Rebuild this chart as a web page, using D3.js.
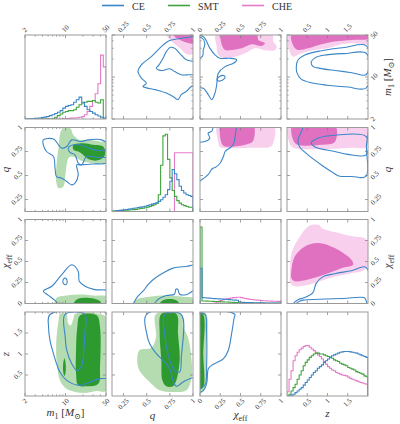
<!DOCTYPE html>
<html>
<head>
<meta charset="UTF-8">
<title>corner plot</title>
<script src="https://d3js.org/d3.v7.min.js"></script>
<style>
  body { margin:0; background:#fff; }
  svg text { font-family: "Liberation Serif", "DejaVu Serif", serif; fill:#333; }
</style>
</head>
<body>
<svg id="chart" width="400" height="424"></svg>
<script>
// ---------- data ----------
const channels = ["CE", "SMT", "CHE"];

// axes
const m1Domain = [2, 50], m1Ticks = [2, 10, 50], m1Minor = [3, 4, 5, 6, 7, 8, 9, 20, 30, 40];
const qDomain = [0.125, 1], qTicks = [0.25, 0.5, 0.75, 1];
const chiDomain = [0, 1], chiTicks = [0, 0.25, 0.5, 0.75, 1];
const zDomain = [0, 2], zTicks = [0.5, 1, 1.5];

// 1D histograms (heights relative to panel height)
// m1: 30 log bins over [2, 50]
const ceM1Hist  = [0,0,0.003,0.005,0.008,0.012,0.016,0.022,0.03,0.04,0.05,0.065,0.08,0.1,0.13,0.15,0.16,0.17,0.2,0.23,0.26,0.2,0.15,0.11,0.09,0.07,0.05,0.035,0.02,0.01];
const smtM1Hist = [0,0,0,0,0,0,0,0,0,0,0,0.02,0.04,0.06,0.08,0.09,0.1,0.1,0.11,0.14,0.17,0.19,0.2,0.21,0.21,0.22,0.2,0.19,0.23,0];
const cheM1Hist = [0,0,0,0,0,0,0,0,0,0,0,0,0,0,0.003,0.005,0.008,0.01,0.012,0.015,0.02,0.03,0.05,0.09,0.15,0.22,0.3,0.42,0.76,0.62];
// q: 35 bins over [0.125, 1]
const ceQHist  = [0.003,0.006,0.01,0.013,0.016,0.02,0.024,0.028,0.033,0.038,0.042,0.047,0.052,0.057,0.062,0.07,0.08,0.088,0.096,0.105,0.12,0.14,0.17,0.2,0.26,0.36,0.5,0.45,0.38,0.3,0.25,0.22,0.2,0.19,0.18];
const smtQHist = [0.004,0.006,0.008,0.01,0.012,0.014,0.016,0.018,0.02,0.022,0.025,0.03,0.035,0.04,0.045,0.05,0.06,0.07,0.08,0.1,0.2,0.55,0.9,0.92,0.62,0.4,0.25,0.18,0.13,0.1,0.08,0.07,0.06,0.05,0.05];
const cheQHist = [0,0,0,0,0,0,0,0,0,0,0,0,0,0,0,0,0,0,0,0,0,0,0,0,0,0,0,0.7,0.7,0.7,0.7,0.7,0.7,0.7,0.7];
// chi_eff: 40 bins over [0, 1]
const ceChiHist  = [0.42,0.07,0.068,0.066,0.064,0.062,0.06,0.058,0.056,0.055,0.054,0.052,0.05,0.048,0.046,0.044,0.042,0.04,0.038,0.02,0.015,0.013,0.012,0.011,0.01,0.01,0.009,0.009,0.008,0.008,0.007,0.007,0.006,0.006,0.006,0.005,0.005,0.005,0.005,0.005];
const smtChiHist = [0.91,0.03,0.03,0.028,0.027,0.026,0.025,0.024,0.023,0.022,0.02,0.019,0.018,0.017,0.016,0.015,0.013,0.012,0.01,0.008,0.003,0.003,0.002,0.002,0.002,0.002,0.002,0.002,0.002,0.002,0.002,0.002,0.002,0.002,0.002,0.002,0.002,0.002,0.002,0.002];
const cheChiHist = [0,0,0,0,0,0,0,0.005,0.015,0.025,0.035,0.045,0.05,0.055,0.06,0.065,0.07,0.07,0.075,0.075,0.07,0.065,0.06,0.055,0.05,0.048,0.045,0.042,0.04,0.038,0.035,0.033,0.032,0.03,0.03,0.028,0.027,0.026,0.025,0.025];
// z: 40 bins over [0, 2]
const ceZHist  = [0,0,0.01,0.02,0.04,0.06,0.08,0.1,0.13,0.16,0.19,0.22,0.25,0.28,0.3,0.33,0.35,0.37,0.4,0.42,0.44,0.46,0.48,0.49,0.5,0.51,0.52,0.525,0.53,0.53,0.53,0.525,0.52,0.515,0.51,0.5,0.49,0.48,0.47,0.46];
const smtZHist = [0,0.02,0.06,0.1,0.14,0.2,0.25,0.3,0.36,0.4,0.43,0.46,0.48,0.5,0.51,0.51,0.5,0.5,0.49,0.48,0.47,0.46,0.45,0.43,0.42,0.41,0.39,0.38,0.37,0.36,0.34,0.33,0.32,0.31,0.29,0.28,0.27,0.26,0.24,0.23];
const cheZHist = [0.05,0.2,0.3,0.42,0.48,0.52,0.55,0.57,0.59,0.6,0.6,0.58,0.56,0.54,0.52,0.49,0.47,0.44,0.41,0.38,0.35,0.33,0.31,0.3,0.28,0.27,0.26,0.25,0.245,0.24,0.225,0.21,0.2,0.19,0.18,0.17,0.16,0.155,0.145,0.14];

// 2D credible regions, [x, y] in data units
// upper triangle: CHE (filled) and CE (lines)
const cheQM1Light = [[0.72,52],[1.02,52],[1.02,25],[0.93,24],[0.86,30],[0.78,38],[0.73,45]];
const cheQM1Dark  = [[0.8,52],[1.02,52],[1.02,36],[0.92,38],[0.85,42],[0.8,47]];
const ceQM1Outer  = [[1.06,47],[0.96,46],[0.856,43.6],[0.748,40.4],[0.676,34],[0.55,21.8],[0.442,15.9],[0.406,12.3],[0.442,9.6],[0.496,7.9],[0.46,6.95],[0.604,6.1],[0.712,5.4],[0.784,4.75],[0.838,4.2],[0.874,5.1],[0.928,5.75],[0.982,6.95],[1.06,8]];
const ceQM1Inner  = [[1.06,11.6],[0.946,10.9],[0.874,10.9],[0.802,12.3],[0.748,13.7],[0.658,12.8],[0.604,14],[0.633,15.9],[0.676,20.5],[0.712,26.4],[0.755,31.2],[0.802,30],[0.856,24.8],[0.928,19.3],[1.06,17]];

const cheChiM1Light = [[0.2,52],[0.885,52],[0.905,38.8],[0.947,32],[0.926,28.2],[0.823,27.5],[0.679,30],[0.556,24.8],[0.432,21.8],[0.309,20.5],[0.226,23.3],[0.206,32]];
const cheChiM1Dark  = [[0.267,52],[0.7,52],[0.72,41.4],[0.802,36.4],[0.761,32.8],[0.638,35],[0.514,30],[0.391,28.2],[0.309,28.2],[0.267,35]];
const ceChiM1Outer  = [[-0.05,47],[0.041,46.6],[0.123,30],[0.185,23.3],[0.247,20.5],[0.37,20.5],[0.453,19.3],[0.412,16.9],[0.309,14.9],[0.226,11.6],[0.206,7.4],[0.185,5.4],[0.144,4.18],[0.103,5.07],[0.041,6.5],[-0.05,6.95]];
const ceChiM1Inner  = [[-0.05,45],[0.03,44],[0.06,36],[0.04,28],[0.03,22],[-0.05,20]];
const ceChiM1Loop   = [[0.21,9.2],[0.24,10.2],[0.29,10.6],[0.31,10],[0.28,8.9],[0.23,8.6]];

const cheZM1Light = [[0.05,52],[2.05,52],[2.05,36],[1.67,36.4],[1.34,35],[1.01,30],[0.68,28.2],[0.35,24.8],[0.15,21.8],[0.07,26.4]];
const cheZM1Dark  = [[0.12,52],[2.05,52],[2.05,44],[1.6,41.4],[1.18,39],[0.85,35],[0.52,30],[0.27,28.2],[0.17,32]];
const ceZM1Outer  = [[1.96,33],[1.42,31],[0.85,27.4],[0.44,23.3],[0.27,19.2],[0.23,14.9],[0.25,11.6],[0.35,9.2],[0.6,8],[1.0,7.3],[1.5,6.8],[1.96,6.6]];
const ceZM1Inner  = [[1.96,24.8],[1.4,24.5],[0.9,23],[0.7,21],[0.6,18],[0.64,15],[0.85,13.8],[1.2,12.8],[1.6,11.8],[1.96,11]];

const cheChiQLight = [[0.22,1.03],[0.905,1.03],[0.905,0.84],[0.87,0.8],[0.6,0.79],[0.31,0.785],[0.245,0.8],[0.225,0.85]];
const cheChiQDark  = [[0.265,1.03],[0.655,1.03],[0.655,0.86],[0.6,0.83],[0.4,0.8],[0.3,0.805],[0.27,0.83]];
const ceChiQOuter  = [[0.43,1.05],[0.432,0.9],[0.42,0.84],[0.39,0.8],[0.31,0.75],[0.29,0.7],[0.25,0.63],[0.2,0.59],[0.15,0.57],[0.1,0.51],[0.02,0.455],[-0.05,0.42],[-0.05,1.05]];
const ceChiQInner  = [[0.145,1.05],[0.15,0.965],[0.1,0.94],[0.12,0.89],[0.06,0.855],[-0.05,0.86],[-0.05,1.05]];

const cheZQLight = [[0.06,1.03],[1.96,1.03],[1.96,0.8],[1.6,0.79],[0.19,0.785],[0.08,0.82]];
const cheZQDark  = [[0.14,1.03],[1.18,1.03],[1.18,0.85],[0.85,0.82],[0.27,0.82],[0.16,0.86]];
const ceZQOuter  = [[0.48,1.05],[0.36,0.96],[0.27,0.87],[0.31,0.8],[0.52,0.715],[0.85,0.61],[1.1,0.54],[1.28,0.495],[1.6,0.49],[1.95,0.49],[1.96,0.8],[1.96,1.05]];
const ceZQInner  = [[1.955,0.905],[1.18,0.92],[0.77,0.89],[0.6,0.84],[0.68,0.8],[1.18,0.75],[1.5,0.72],[1.955,0.715]];

const cheZChiLight = [[0.07,0.3],[0.08,0.45],[0.11,0.6],[0.27,0.76],[0.56,0.93],[0.81,0.93],[0.85,0.9],[1.18,0.85],[1.59,0.8],[1.96,0.76],[1.96,0.42],[1.59,0.36],[1.18,0.32],[0.85,0.27],[0.44,0.213],[0.19,0.205],[0.08,0.24]];
const cheZChiDark  = [[0.11,0.4],[0.19,0.56],[0.44,0.68],[0.77,0.72],[1.18,0.66],[1.59,0.52],[1.63,0.46],[1.34,0.42],[1.01,0.36],[0.52,0.285],[0.19,0.265],[0.11,0.3]];
const ceZChiOuter  = [[0.14,-0.05],[0.16,0.0],[0.27,0.045],[0.44,0.07],[0.64,0.13],[0.72,0.24],[0.89,0.32],[1.18,0.355],[1.59,0.39],[1.95,0.43],[1.96,-0.05]];
const ceZChiInner  = [[0.18,-0.05],[0.25,0.01],[0.4,0.04],[0.8,0.05],[1.4,0.06],[1.9,0.07],[1.95,0.04],[1.96,-0.05]];

// lower triangle: SMT (filled) and CE (lines)
const smtM1QLight = [[8.6,0.976],[12,0.993],[13.7,0.923],[17.9,0.87],[26.4,0.87],[39.4,0.854],[52,0.84],[52,0.628],[30,0.628],[20.2,0.646],[15.6,0.68],[12.8,0.698],[11.2,0.68],[10.5,0.611],[9.8,0.472],[9.2,0.385],[7.6,0.368],[6.9,0.437],[7.0,0.611],[7.6,0.8],[8.0,0.923]];
const smtM1QDark  = [[13.7,0.819],[20.2,0.837],[30.1,0.82],[45,0.8],[48,0.715],[39.4,0.663],[26.4,0.663],[17.9,0.74],[13.7,0.77]];
const ceM1QOuter  = [[4.14,0.871],[6.2,0.88],[8.6,0.785],[10.5,0.802],[12.8,0.871],[17.9,0.854],[24.7,0.871],[34.5,0.878],[42.1,0.871],[55,0.82],[55,0.64],[30,0.62],[18,0.611],[15.6,0.611],[16.6,0.507],[14.6,0.42],[12.8,0.402],[10.5,0.437],[8.6,0.472],[7.0,0.489],[6.6,0.576],[6.2,0.698],[4.7,0.75],[4.14,0.819]];
const ceM1QInner  = [[11.2,0.785],[13.7,0.82],[20.2,0.81],[28.2,0.775],[39.4,0.76],[55,0.77],[55,0.7],[34.5,0.69],[23.2,0.7],[19,0.611],[16.6,0.628],[14.6,0.715],[12,0.74]];

const smtM1ChiLight = [[6,-0.02],[6.6,0.02],[7.0,0.067],[10.5,0.094],[17.9,0.106],[30,0.094],[52,0.08],[52,-0.02]];
const smtM1ChiDark  = [[13.7,-0.02],[15.6,0.047],[23.2,0.067],[34.5,0.047],[39.4,0.028],[42,-0.02]];
const ceM1ChiOuter  = [[4.14,0.146],[5.8,0.205],[8.6,0.343],[12.8,0.461],[16.6,0.382],[17.3,0.264],[21.7,0.205],[32,0.165],[55,0.146],[55,-0.05],[9,-0.05],[6.5,0.04],[5,0.1]];
const ceM1ChiLoop   = [[9.0,0.26],[9.5,0.3],[10.3,0.295],[10.7,0.26],[10.2,0.225],[9.4,0.23]];

const smtQChiLight = [[0.34,-0.02],[0.39,0.047],[0.53,0.079],[0.71,0.094],[0.89,0.079],[1.02,0.055],[1.02,-0.02]];
const smtQChiDark  = [[0.63,-0.02],[0.676,0.039],[0.748,0.055],[0.82,0.039],[0.86,-0.02]];
const ceQChiOuter  = [[1.05,0.45],[0.928,0.441],[0.784,0.421],[0.676,0.362],[0.568,0.283],[0.514,0.224],[0.46,0.146],[0.406,0.087],[0.37,0.028],[0.35,-0.05],[1.05,-0.05]];
const ceQChiInner  = [[0.58,-0.05],[0.604,0.03],[0.712,0.094],[0.8,0.11],[0.815,0.17],[0.835,0.17],[0.856,0.11],[0.928,0.105],[1.05,0.17],[1.05,-0.05]];

const smtM1ZLight = [[8,1.95],[10.3,1.95],[11.2,1.72],[12.3,1.68],[13.7,1.84],[14.6,1.95],[39.4,1.95],[52,1.85],[52,0.13],[34.5,0.12],[20.2,0.071],[12.8,0.119],[9.8,0.198],[8,0.373],[7.2,0.69],[6.9,1.0],[7.0,1.4],[7.6,1.8]];
const smtM1ZDark  = [[17.9,1.92],[34.5,1.92],[39.4,1.64],[39.4,0.69],[37,0.294],[23.2,0.23],[16.6,0.254],[15.2,0.532],[15.2,1.087],[16,1.64]];
const smtM1ZDark2 = [[9.6,0.9],[10.1,0.75],[10.0,0.55],[9.6,0.48],[9.2,0.55],[9.1,0.75]];
const ceM1ZOuter  = [[5.4,1.94],[55,1.94],[55,0.45],[39.4,0.413],[26.4,0.333],[17.9,0.254],[10.5,0.373],[8.0,0.571],[7.0,0.77],[6.2,1.008],[5.4,1.325],[5.1,1.64]];
const ceM1ZInner  = [[9.8,1.94],[9.9,1.4],[10.5,1.09],[12.8,0.77],[16,0.6],[19,0.73],[20.8,1.09],[21.5,1.5],[21.7,1.94]];

const smtQZLight = [[0.6,1.95],[0.874,1.95],[0.892,1.64],[0.946,1.4],[0.99,0.7],[0.982,0.4],[0.928,0.135],[0.784,0.095],[0.64,0.135],[0.532,0.333],[0.46,0.492],[0.406,0.69],[0.42,1.087],[0.55,1.15],[0.6,1.4]];
const smtQZDark  = [[0.658,1.95],[0.82,1.95],[0.838,1.48],[0.856,0.85],[0.82,0.373],[0.784,0.23],[0.712,0.23],[0.669,0.373],[0.658,0.85],[0.64,1.48]];
const ceQZOuter  = [[0.496,1.94],[1.05,1.94],[1.05,0.5],[0.964,0.413],[0.892,0.333],[0.82,0.23],[0.784,0.373],[0.748,0.651],[0.676,0.849],[0.604,1.008],[0.532,1.246],[0.5,1.484]];
const ceQZInner  = [[0.694,1.94],[0.694,1.48],[0.73,1.0],[0.8,0.61],[0.856,0.57],[0.874,0.93],[0.874,1.94]];

const smtChiZLight = [[-0.05,1.97],[0.07,1.97],[0.075,1.0],[0.07,0.25],[0.04,0.1],[0.0,0.08],[-0.05,0.08]];
const smtChiZDark  = [[-0.05,1.95],[0.035,1.95],[0.04,1.0],[0.035,0.2],[-0.05,0.15]];
const ceChiZOuter  = [[-0.05,1.95],[0.43,1.945],[0.42,1.85],[0.39,1.48],[0.35,1.09],[0.29,0.89],[0.144,0.73],[0.103,0.65],[0.082,0.294],[0.041,0.135],[-0.05,0.09]];
const ceChiZInner  = [[-0.05,1.95],[0.062,1.94],[0.08,1.6],[0.082,0.73],[0.07,0.3],[0.03,0.2],[-0.05,0.17]];

// ---------- layout / style ----------
const colLeft = [25, 112, 200, 287];
const rowTop = [35, 127.5, 219.5, 312];
const PW = 81, PH = 84;
const blue = "#3b86c8", green = "#3fa53c", pink = "#e57bc8";
const pinkDark = "#e070c0", pinkLight = "#f8cfec";
const greenDark = "#2c9a2e", greenLight = "#b4dcb0";
const lineColor = {CE: blue, SMT: green, CHE: pink};

const axisDefs = {
  m1:  {domain: m1Domain, log: true, ticks: m1Ticks, minor: m1Minor},
  q:   {domain: qDomain, ticks: qTicks, minor: []},
  chi: {domain: chiDomain, ticks: chiTicks, minor: []},
  z:   {domain: zDomain, ticks: zTicks, minor: []}
};
const order = ["m1", "q", "chi", "z"];

const histTable = {
  m1:  {CE: ceM1Hist, SMT: smtM1Hist, CHE: cheM1Hist},
  q:   {CE: ceQHist, SMT: smtQHist, CHE: cheQHist},
  chi: {CE: ceChiHist, SMT: smtChiHist, CHE: cheChiHist},
  z:   {CE: ceZHist, SMT: smtZHist, CHE: cheZHist}
};

const pairPanels = [
  {r:0, c:1, light:[cheQM1Light], dark:[cheQM1Dark], fill:"CHE", ce:[ceQM1Outer, ceQM1Inner]},
  {r:0, c:2, light:[cheChiM1Light], dark:[cheChiM1Dark], fill:"CHE", ce:[ceChiM1Outer, ceChiM1Inner, ceChiM1Loop]},
  {r:0, c:3, light:[cheZM1Light], dark:[cheZM1Dark], fill:"CHE", ce:[ceZM1Outer, ceZM1Inner]},
  {r:1, c:2, light:[cheChiQLight], dark:[cheChiQDark], fill:"CHE", ce:[ceChiQOuter, ceChiQInner]},
  {r:1, c:3, light:[cheZQLight], dark:[cheZQDark], fill:"CHE", ce:[ceZQOuter, ceZQInner]},
  {r:2, c:3, light:[cheZChiLight], dark:[cheZChiDark], fill:"CHE", ce:[ceZChiOuter, ceZChiInner]},
  {r:1, c:0, light:[smtM1QLight], dark:[smtM1QDark], fill:"SMT", ce:[ceM1QOuter, ceM1QInner]},
  {r:2, c:0, light:[smtM1ChiLight], dark:[smtM1ChiDark], fill:"SMT", ce:[ceM1ChiOuter, ceM1ChiLoop]},
  {r:2, c:1, light:[smtQChiLight], dark:[smtQChiDark], fill:"SMT", ce:[ceQChiOuter, ceQChiInner]},
  {r:3, c:0, light:[smtM1ZLight], dark:[smtM1ZDark, smtM1ZDark2], fill:"SMT", ce:[ceM1ZOuter, ceM1ZInner]},
  {r:3, c:1, light:[smtQZLight], dark:[smtQZDark], fill:"SMT", ce:[ceQZOuter, ceQZInner]},
  {r:3, c:2, light:[smtChiZLight], dark:[smtChiZDark], fill:"SMT", ce:[ceChiZOuter, ceChiZInner]}
];

const svg = d3.select("#chart");

function xScale(v, c) {
  const d = axisDefs[v];
  return (d.log ? d3.scaleLog() : d3.scaleLinear()).domain(d.domain).range([colLeft[c], colLeft[c] + PW]);
}
function yScale(v, r) {
  const d = axisDefs[v];
  return (d.log ? d3.scaleLog() : d3.scaleLinear()).domain(d.domain).range([rowTop[r] + PH, rowTop[r]]);
}

// clip paths
const defs = svg.append("defs");
for (let r = 0; r < 4; r++) for (let c = 0; c < 4; c++) {
  defs.append("clipPath").attr("id", `clip${r}${c}`)
    .append("rect").attr("x", colLeft[c]).attr("y", rowTop[r]).attr("width", PW).attr("height", PH);
}

// ---- diagonal histograms ----
order.forEach((v, i) => {
  const sx = xScale(v, i);
  const sy = d3.scaleLinear().domain([0, 1]).range([rowTop[i] + PH, rowTop[i]]);
  const g = svg.append("g").attr("clip-path", `url(#clip${i}${i})`);
  const dom = axisDefs[v].domain;
  ["CHE", "SMT", "CE"].forEach(ch => {
    const h = histTable[v][ch];
    const n = h.length;
    const edge = k => axisDefs[v].log ? dom[0] * Math.pow(dom[1] / dom[0], k / n) : dom[0] + (dom[1] - dom[0]) * k / n;
    const pts = [[edge(0), 0]];
    h.forEach((val, k) => pts.push([edge(k), val]));
    pts.push([edge(n), h[n - 1]]);
    pts.push([edge(n), 0]);
    const line = d3.line().x(d => sx(d[0])).y(d => sy(d[1])).curve(d3.curveStepAfter);
    g.append("path").attr("d", line(pts)).attr("fill", "none")
      .attr("stroke", lineColor[ch]).attr("stroke-width", 1.1);
  });
});

// ---- 2D panels ----
pairPanels.forEach(p => {
  const sx = xScale(order[p.c], p.c), sy = yScale(order[p.r], p.r);
  const g = svg.append("g").attr("clip-path", `url(#clip${p.r}${p.c})`);
  const shape = d3.line().x(d => sx(d[0])).y(d => sy(d[1])).curve(d3.curveCatmullRomClosed.alpha(0.5));
  const light = p.fill === "CHE" ? pinkLight : greenLight;
  const dark = p.fill === "CHE" ? pinkDark : greenDark;
  p.light.forEach(poly => g.append("path").attr("d", shape(poly)).attr("fill", light));
  p.dark.forEach(poly => g.append("path").attr("d", shape(poly)).attr("fill", dark));
  p.ce.forEach(poly => g.append("path").attr("d", shape(poly)).attr("fill", "none")
    .attr("stroke", blue).attr("stroke-width", 1.1));
});

// ---- frames and ticks ----
const tickColor = "#777";
function tickLabel(x, y, text, side) {
  const t = svg.append("text").attr("font-size", 7).attr("text-anchor", "middle")
    .attr("dominant-baseline", "central").text(text);
  const L = t.node().getComputedTextLength();
  const ext = (L + 5) / Math.SQRT2, pad = 2;
  let cx = x, cy = y;
  if (side === "bottom") cy = y + pad + ext / 2;
  if (side === "top") cy = y - pad - ext / 2;
  if (side === "left") cx = x - pad - ext / 2;
  if (side === "right") cx = x + pad + ext / 2;
  t.attr("transform", `translate(${cx},${cy}) rotate(-45)`);
}

for (let r = 0; r < 4; r++) for (let c = 0; c < 4; c++) {
  const x0 = colLeft[c], y0 = rowTop[r], x1 = x0 + PW, y1 = y0 + PH;
  const xv = order[c], yv = order[r];
  const sx = xScale(xv, c), sy = yScale(yv, r);
  const tg = svg.append("g").attr("stroke", tickColor).attr("stroke-width", 0.7);
  axisDefs[xv].ticks.forEach(t => {
    const x = sx(t);
    tg.append("line").attr("x1", x).attr("x2", x).attr("y1", y0).attr("y2", y0 + 3);
    tg.append("line").attr("x1", x).attr("x2", x).attr("y1", y1).attr("y2", y1 - 3);
  });
  axisDefs[xv].minor.forEach(t => {
    const x = sx(t);
    tg.append("line").attr("x1", x).attr("x2", x).attr("y1", y0).attr("y2", y0 + 1.6);
    tg.append("line").attr("x1", x).attr("x2", x).attr("y1", y1).attr("y2", y1 - 1.6);
  });
  if (r !== c) {
    axisDefs[yv].ticks.forEach(t => {
      const y = sy(t);
      tg.append("line").attr("y1", y).attr("y2", y).attr("x1", x0).attr("x2", x0 + 3);
      tg.append("line").attr("y1", y).attr("y2", y).attr("x1", x1).attr("x2", x1 - 3);
    });
    axisDefs[yv].minor.forEach(t => {
      const y = sy(t);
      tg.append("line").attr("y1", y).attr("y2", y).attr("x1", x0).attr("x2", x0 + 1.6);
      tg.append("line").attr("y1", y).attr("y2", y).attr("x1", x1).attr("x2", x1 - 1.6);
    });
  }
  svg.append("rect").attr("x", x0).attr("y", y0).attr("width", PW).attr("height", PH)
    .attr("fill", "none").attr("stroke", "#9a9a9a").attr("stroke-width", 1);

  if (r === 0) axisDefs[xv].ticks.forEach(t => tickLabel(sx(t), y0, String(t), "top"));
  if (r === 3) axisDefs[xv].ticks.forEach(t => tickLabel(sx(t), y1, String(t), "bottom"));
  if (c === 0 && r > 0) axisDefs[yv].ticks.forEach(t => tickLabel(x0, sy(t), String(t), "left"));
  if (c === 3 && r < 3) axisDefs[yv].ticks.forEach(t => tickLabel(x1, sy(t), String(t), "right"));
}

// ---- axis labels ----
const labelParts = {
  m1:  [{t:"m", it:true}, {t:"1", sub:true}, {t:" ["}, {t:"M", it:true}, {t:"⊙", sub:true}, {t:"]"}],
  q:   [{t:"q", it:true}],
  chi: [{t:"χ", it:true}, {t:"eff", sub:true}],
  z:   [{t:"z", it:true}]
};
function axisLabel(x, y, v, rot) {
  const t = svg.append("text").attr("font-size", 11).attr("text-anchor", "middle")
    .attr("transform", `translate(${x},${y}) rotate(${rot})`);
  let shifted = false;
  labelParts[v].forEach(p => {
    const s = t.append("tspan").text(p.t);
    if (p.it) s.attr("font-style", "italic");
    if (p.sub) { s.attr("font-size", 8).attr("dy", 2.5); shifted = true; }
    else if (shifted) { s.attr("dy", -2.5); shifted = false; }
  });
}
const bottomLabelY = {m1: 416, q: 419, chi: 418, z: 417};
order.forEach((v, i) => axisLabel(colLeft[i] + PW / 2, bottomLabelY[v], v, 0));
order.slice(1).forEach((v, k) => axisLabel(9, rowTop[k + 1] + PH / 2, v, -90));
order.slice(0, 3).forEach((v, k) => axisLabel(391, rowTop[k] + PH / 2, v, -90));

// ---- legend ----
const legendX = [102, 168, 242];
channels.forEach((ch, i) => {
  svg.append("line").attr("x1", legendX[i]).attr("x2", legendX[i] + 22)
    .attr("y1", 5.5).attr("y2", 5.5).attr("stroke", lineColor[ch]).attr("stroke-width", 1.6);
  svg.append("text").attr("x", legendX[i] + 30).attr("y", 9.5).attr("font-size", 10).text(ch);
});
</script>
</body>
</html>
